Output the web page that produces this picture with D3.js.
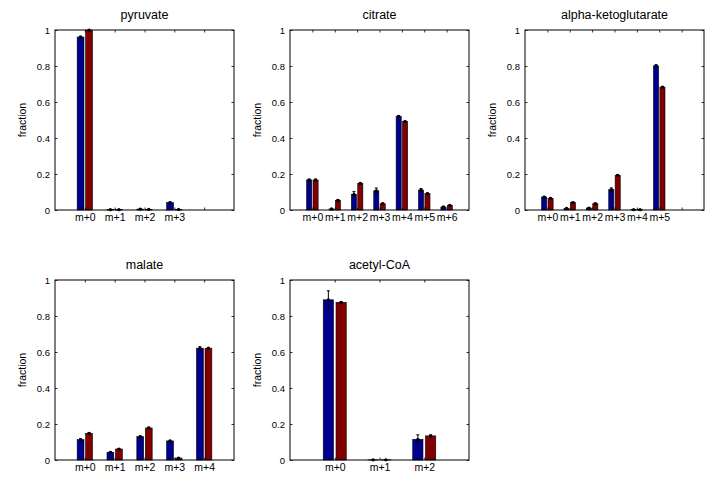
<!DOCTYPE html>
<html>
<head>
<meta charset="utf-8">
<script src="https://cdn.jsdelivr.net/npm/d3@7"></script>
<style>
  body { margin: 0; background: #fff; }
  text { font-family: "Liberation Sans", Arial, Helvetica, sans-serif; fill: #000; }
</style>
</head>
<body>
<script>
// compound names (panel titles)
var compounds = ["pyruvate", "citrate", "alpha-ketoglutarate", "malate", "acetyl-CoA"];

// isotopologue labels
var pyruvateLabels = ["m+0", "m+1", "m+2", "m+3"];
var citrateLabels = ["m+0", "m+1", "m+2", "m+3", "m+4", "m+5", "m+6"];
var akgLabels = ["m+0", "m+1", "m+2", "m+3", "m+4", "m+5"];
var malateLabels = ["m+0", "m+1", "m+2", "m+3", "m+4"];
var acetylLabels = ["m+0", "m+1", "m+2"];

// fractions, condition 1 (blue) and condition 2 (red)
var pyruvateBlue = [0.961, 0.002, 0.005, 0.041];
var pyruvateRed  = [0.999, 0.002, 0.003, 0.003];
var citrateBlue = [0.167, 0.006, 0.087, 0.107, 0.520, 0.111, 0.017];
var citrateRed  = [0.167, 0.054, 0.148, 0.035, 0.491, 0.091, 0.026];
var akgBlue = [0.072, 0.009, 0.011, 0.113, 0.002, 0.801];
var akgRed  = [0.065, 0.041, 0.035, 0.193, 0.002, 0.683];
var malateBlue = [0.113, 0.043, 0.130, 0.106, 0.621];
var malateRed  = [0.148, 0.061, 0.178, 0.011, 0.621];
var acetylBlue = [0.890, 0.001, 0.115];
var acetylRed  = [0.876, 0.001, 0.134];

// error bars (std)
var pyruvateBlueErr = [0.005, 0.001, 0.002, 0.004];
var pyruvateRedErr  = [0.002, 0.001, 0.001, 0.001];
var citrateBlueErr = [0.004, 0.002, 0.015, 0.015, 0.005, 0.008, 0.003];
var citrateRedErr  = [0.004, 0.004, 0.004, 0.004, 0.004, 0.004, 0.003];
var akgBlueErr = [0.004, 0.002, 0.003, 0.010, 0.001, 0.006];
var akgRedErr  = [0.003, 0.003, 0.003, 0.003, 0.001, 0.003];
var malateBlueErr = [0.005, 0.003, 0.004, 0.003, 0.008];
var malateRedErr  = [0.004, 0.003, 0.004, 0.002, 0.004];
var acetylBlueErr = [0.050, 0.001, 0.025];
var acetylRedErr  = [0.004, 0.001, 0.006];

// x limits (upper) for each panel, lower is 0
var xMax = [6, 8, 8, 6, 4];

var yTicks = [0, 0.2, 0.4, 0.6, 0.8, 1];

var W = 705, H = 478;
var colLeft = [55, 290, 525],
    rowTop = [30, 280],
    pw = 179,
    ph = 180,
    tick = 2.5;

var blue = "#00008f", red = "#800000";

var panels = [
    {labels: pyruvateLabels, b: pyruvateBlue, r: pyruvateRed, be: pyruvateBlueErr, re: pyruvateRedErr},
    {labels: citrateLabels, b: citrateBlue, r: citrateRed, be: citrateBlueErr, re: citrateRedErr},
    {labels: akgLabels, b: akgBlue, r: akgRed, be: akgBlueErr, re: akgRedErr},
    {labels: malateLabels, b: malateBlue, r: malateRed, be: malateBlueErr, re: malateRedErr},
    {labels: acetylLabels, b: acetylBlue, r: acetylRed, be: acetylBlueErr, re: acetylRedErr}
];

var svg = d3.select("body").append("svg")
    .attr("width", W).attr("height", H);

function buildPanel(p, i) {
    var x0 = colLeft[i % 3], y0 = rowTop[Math.floor(i / 3)];
    var g = svg.append("g").attr("transform", "translate(" + x0 + "," + y0 + ")");

    var xScale = d3.scaleLinear().domain([0, xMax[i]]).range([0, pw]);
    var yScale = d3.scaleLinear().domain([0, 1]).range([ph, 0]);

    var groupW = Math.min(0.8, 2 / 3.5),
        barW = groupW / 2 * 0.8,
        off = groupW / 4;

    var rows = p.labels.map(function (lab, k) {
        return {k: k + 1, label: lab, b: p.b[k], r: p.r[k], be: p.be[k], re: p.re[k]};
    });

    var series = [
        {key: "b", err: "be", dx: -off, color: blue},
        {key: "r", err: "re", dx: off, color: red}
    ];

    series.forEach(function (s) {
        g.selectAll(".bar-" + s.key).data(rows).enter().append("rect")
            .attr("class", "bar-" + s.key)
            .attr("x", function (d) { return xScale(d.k + s.dx - barW / 2); })
            .attr("width", xScale(barW) - xScale(0))
            .attr("y", function (d) { return yScale(d[s.key]); })
            .attr("height", function (d) { return yScale(0) - yScale(d[s.key]); })
            .attr("fill", s.color)
            .attr("stroke", "#000")
            .attr("stroke-width", 0.6);
    });

    // error bars
    series.forEach(function (s) {
        var eb = g.selectAll(".err-" + s.key).data(rows).enter().append("g")
            .attr("class", "err-" + s.key);
        eb.append("line")
            .attr("x1", function (d) { return xScale(d.k + s.dx); })
            .attr("x2", function (d) { return xScale(d.k + s.dx); })
            .attr("y1", function (d) { return yScale(Math.min(1, d[s.key] + d[s.err])); })
            .attr("y2", function (d) { return yScale(Math.max(0, d[s.key] - d[s.err])); })
            .attr("stroke", "#000").attr("stroke-width", 1);
        [1, -1].forEach(function (sg) {
            eb.append("line")
                .attr("x1", function (d) { return xScale(d.k + s.dx) - 1.5; })
                .attr("x2", function (d) { return xScale(d.k + s.dx) + 1.5; })
                .attr("y1", function (d) { return yScale(d[s.key] + sg * d[s.err]); })
                .attr("y2", function (d) { return yScale(d[s.key] + sg * d[s.err]); })
                .attr("stroke", "#000").attr("stroke-width", 1);
        });
        eb.append("circle")
            .attr("cx", function (d) { return xScale(d.k + s.dx); })
            .attr("cy", function (d) { return yScale(d[s.key]); })
            .attr("r", 1.6)
            .attr("fill", "#000");
    });

    // axes: ticks inside on all four sides
    var xt = d3.range(1, xMax[i]);
    var xLabels = function (d) { return p.labels[d - 1] || ""; };

    g.append("g").attr("transform", "translate(0," + ph + ")")
        .call(d3.axisBottom(xScale).tickValues(xt).tickFormat(xLabels).tickSizeInner(-tick).tickSizeOuter(0).tickPadding(4))
        .call(styleAxis)
        .selectAll("text").style("font-size", "10.5px");
    g.append("g")
        .call(d3.axisTop(xScale).tickValues(xt).tickFormat("").tickSizeInner(-tick).tickSizeOuter(0))
        .call(styleAxis);
    g.append("g")
        .call(d3.axisLeft(yScale).tickValues(yTicks).tickFormat(d3.format("~g")).tickSizeInner(-tick).tickSizeOuter(0).tickPadding(5))
        .call(styleAxis);
    g.append("g").attr("transform", "translate(" + pw + ",0)")
        .call(d3.axisRight(yScale).tickValues(yTicks).tickFormat("").tickSizeInner(-tick).tickSizeOuter(0))
        .call(styleAxis);

    g.append("rect")
        .attr("width", pw).attr("height", ph)
        .attr("fill", "none").attr("stroke", "#000").attr("stroke-width", 1);

    g.append("text")
        .attr("x", pw / 2).attr("y", -11)
        .attr("text-anchor", "middle")
        .style("font-size", "12.5px")
        .text(compounds[i]);

    g.append("text")
        .attr("transform", "translate(-29," + (ph / 2) + ") rotate(-90)")
        .attr("text-anchor", "middle")
        .style("font-size", "10.5px")
        .text("fraction");
}

function styleAxis(sel) {
    sel.select(".domain").remove();
    sel.selectAll("line").attr("stroke", "#000").attr("stroke-width", 0.8);
    sel.selectAll("text").style("font-size", "9.5px").attr("fill", "#000");
}

panels.forEach(buildPanel);
</script>
</body>
</html>
